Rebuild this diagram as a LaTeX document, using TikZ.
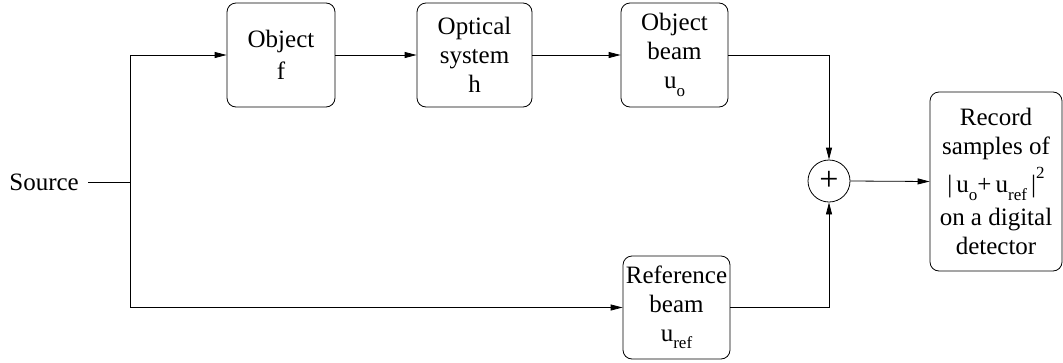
\documentclass[tikz,border=0pt]{standalone}
\usepackage{fontspec}
\setmainfont{Liberation Serif}
\usetikzlibrary{arrows.meta,calc}
% small lowered / raised text used for the field symbols
\newcommand\lowtxt[1]{\raisebox{-0.3em}{\fontsize{17}{17}\selectfont #1}}
\newcommand\hightxt[1]{\raisebox{0.55em}{\fontsize{17}{17}\selectfont #1}}
\begin{document}
\begin{tikzpicture}[x=1pt,y=-1pt,
  font=\fontsize{25}{29}\selectfont,
  block/.style={draw, line width=0.8pt, rounded corners=9pt, align=center,
    inner sep=0pt, minimum height=104pt},
  flow/.style={draw, line width=0.8pt, -{Triangle[length=12pt,width=6pt]}},
  wire/.style={draw, line width=0.8pt}]
\useasboundingbox (0,0) rectangle (1063,362);

\node[anchor=east, inner sep=0pt] (src) at (79,182) {Source};
\coordinate (split) at (130,182);

\node[block, minimum width=108pt] (obj) at (281,55) {Object\\[3pt]f};
\node[block, minimum width=115pt] (opt) at (474.5,55) {Optical\\system\\h};
\node[block, minimum width=107pt] (objbeam) at (674.5,55) {Object\\beam\\u\lowtxt{o}};
\node[block, minimum width=107pt, minimum height=103pt] (refbeam) at (676.5,307.5)
  {Reference\\beam\\u\lowtxt{ref}};
\node[draw, circle, line width=0.8pt, minimum size=42pt, inner sep=0pt,
  font=\fontsize{34}{34}\selectfont] (sum) at (829,181) {\raisebox{-0.05em}{+}};
\node[block, minimum width=132pt, minimum height=179pt] (rec) at (996,181.5)
  {Record\\samples of\\[7pt]|\,u\lowtxt{o}+\,u\lowtxt{ref}\,|\hightxt{2}\\[4pt]on a digital\\detector};

\path[wire] ($(src.east)+(9,0)$) -- (split);
\path[flow] (split) |- (obj.west);
\path[flow] (split) |- (refbeam.west);
\path[flow] (obj.east) -- (opt.west);
\path[flow] (opt.east) -- (objbeam.west);
\path[flow] (objbeam.east) -| (sum.north);
\path[flow] (refbeam.east) -| (sum.south);
\path[flow] (sum.east) -- (rec.west);
\end{tikzpicture}
\end{document}
